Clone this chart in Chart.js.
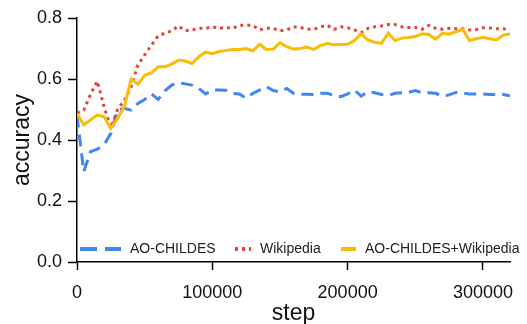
<!DOCTYPE html>
<html>
<head>
<meta charset="utf-8">
<script src="https://cdn.jsdelivr.net/npm/chart.js@4.4.1/dist/chart.umd.min.js"></script>
<style>
  html, body { margin: 0; padding: 0; background: #fff; }
  #wrap { width: 527px; height: 324px; }
</style>
</head>
<body>
<div id="wrap"><canvas id="chart" width="527" height="324"></canvas></div>
<script>
// evaluation steps (every 5000)
const steps = [
  0, 5000, 10000, 15000, 20000, 25000, 30000, 35000, 40000, 45000,
  50000, 55000, 60000, 65000, 70000, 75000, 80000, 85000, 90000, 95000,
  100000, 105000, 110000, 115000, 120000, 125000, 130000, 135000, 140000, 145000,
  150000, 155000, 160000, 165000, 170000, 175000, 180000, 185000, 190000, 195000,
  200000, 205000, 210000, 215000, 220000, 225000, 230000, 235000, 240000, 245000,
  250000, 255000, 260000, 265000, 270000, 275000, 280000, 285000, 290000, 295000,
  300000, 305000, 310000, 315000, 320000
];

const seriesNames = ['AO-CHILDES', 'Wikipedia', 'AO-CHILDES+Wikipedia'];

const childes = [
  0.480, 0.296, 0.362, 0.370, 0.384, 0.422, 0.498, 0.504, 0.498, 0.520,
  0.533, 0.551, 0.533, 0.561, 0.580, 0.588, 0.584, 0.580, 0.569, 0.551,
  0.564, 0.564, 0.563, 0.553, 0.551, 0.537, 0.553, 0.564, 0.575, 0.562,
  0.558, 0.569, 0.553, 0.550, 0.550, 0.549, 0.553, 0.553, 0.546, 0.542,
  0.551, 0.564, 0.544, 0.558, 0.555, 0.549, 0.546, 0.553, 0.555, 0.556,
  0.562, 0.555, 0.555, 0.553, 0.544, 0.548, 0.556, 0.554, 0.551, 0.551,
  0.551, 0.549, 0.549, 0.549, 0.545
];

const wikipedia = [
  0.488, 0.498, 0.550, 0.593, 0.509, 0.440, 0.500, 0.530, 0.575, 0.646,
  0.679, 0.711, 0.742, 0.750, 0.758, 0.774, 0.758, 0.761, 0.766, 0.766,
  0.771, 0.766, 0.769, 0.766, 0.776, 0.777, 0.775, 0.761, 0.766, 0.766,
  0.758, 0.761, 0.771, 0.769, 0.764, 0.763, 0.771, 0.776, 0.763, 0.771,
  0.768, 0.761, 0.752, 0.766, 0.771, 0.774, 0.779, 0.779, 0.771, 0.769,
  0.769, 0.763, 0.776, 0.766, 0.763, 0.766, 0.765, 0.765, 0.761, 0.762,
  0.768, 0.767, 0.765, 0.765, 0.761
];

const combined = [
  0.487, 0.449, 0.466, 0.482, 0.476, 0.438, 0.471, 0.509, 0.600, 0.583,
  0.612, 0.620, 0.640, 0.640, 0.649, 0.662, 0.659, 0.651, 0.673, 0.688,
  0.683, 0.690, 0.693, 0.697, 0.697, 0.700, 0.692, 0.714, 0.697, 0.698,
  0.719, 0.706, 0.698, 0.700, 0.705, 0.697, 0.710, 0.716, 0.712, 0.713,
  0.714, 0.726, 0.748, 0.728, 0.720, 0.717, 0.750, 0.726, 0.734, 0.736,
  0.739, 0.748, 0.746, 0.731, 0.750, 0.747, 0.755, 0.763, 0.726, 0.732,
  0.737, 0.732, 0.728, 0.744, 0.748
];

const xTicks = [0, 100000, 200000, 300000];
const yTicks = [0.0, 0.2, 0.4, 0.6, 0.8];

const FONT = "'Liberation Sans', Arial, sans-serif";

const toPoints = vals => vals.map((v, i) => ({ x: steps[i], y: v }));

/* ── legend drawn inside the plot, along the bottom ── */
const insideLegend = {
  id: 'insideLegend',
  afterDatasetsDraw(chart) {
    const { ctx, chartArea } = chart;
    const y = chartArea.bottom - 13;
    const keys = [
      { x0: 80, x1: 121, tx: 130, dash: [17, 8] },
      { x0: 235, x1: 251, tx: 260, dash: [3, 4] },
      { x0: 341, x1: 356, tx: 365, dash: [] },
    ];
    ctx.save();
    chart.data.datasets.forEach((ds, i) => {
      const k = keys[i];
      ctx.beginPath();
      ctx.strokeStyle = ds.borderColor;
      ctx.lineWidth = 4;
      ctx.setLineDash(k.dash);
      ctx.moveTo(k.x0, y);
      ctx.lineTo(k.x1, y);
      ctx.stroke();
      ctx.setLineDash([]);
      ctx.fillStyle = '#222';
      ctx.font = '14px ' + FONT;
      ctx.textBaseline = 'middle';
      ctx.fillText(ds.label, k.tx, y);
    });
    ctx.restore();
  }
};

new Chart(document.getElementById('chart'), {
  type: 'line',
  data: {
    datasets: [
      {
        label: seriesNames[0],
        data: toPoints(childes),
        borderColor: '#4285F4',
        borderWidth: 3,
        borderDash: [12, 7],
        pointRadius: 0,
        tension: 0,
        order: 3,
      },
      {
        label: seriesNames[1],
        data: toPoints(wikipedia),
        borderColor: '#EA4335',
        borderWidth: 3,
        borderDash: [3, 4],
        pointRadius: 0,
        tension: 0,
        order: 2,
      },
      {
        label: seriesNames[2],
        data: toPoints(combined),
        borderColor: '#FBBC04',
        borderWidth: 3,
        pointRadius: 0,
        tension: 0,
        order: 1,
      },
    ],
  },
  options: {
    responsive: false,
    animation: false,
    layout: { padding: { top: 18, right: 17, left: 0, bottom: 0 } },
    plugins: { legend: { display: false }, tooltip: { enabled: false } },
    scales: {
      x: {
        type: 'linear',
        min: 0,
        max: 320000,
        afterFit: s => { s.height = 62; },
        afterBuildTicks: s => { s.ticks = xTicks.map(v => ({ value: v })); },
        grid: { drawOnChartArea: false, tickLength: 8, tickColor: '#000', tickWidth: 1.5 },
        border: { color: '#000', width: 1.5 },
        ticks: {
          color: '#111', padding: 12, maxRotation: 0,
          font: { family: FONT, size: 18 },
          callback: v => String(v),
        },
        title: {
          display: true, text: 'step', color: '#111',
          font: { family: FONT, size: 23, lineHeight: 0.9 },
          padding: { top: 0, bottom: 0 },
        },
      },
      y: {
        min: 0,
        max: 0.8,
        afterFit: s => { s.width = 77; },
        afterBuildTicks: s => { s.ticks = yTicks.map(v => ({ value: v })); },
        grid: { drawOnChartArea: false, tickLength: 9, tickColor: '#000', tickWidth: 1.5 },
        border: { color: '#000', width: 1.5 },
        ticks: {
          color: '#111', padding: 6,
          font: { family: FONT, size: 18 },
          callback: v => v.toFixed(1),
        },
        title: {
          display: true, text: 'accuracy', color: '#111',
          font: { family: FONT, size: 23, lineHeight: 1 },
          padding: { top: 11, bottom: 0 },
        },
      },
    },
  },
  plugins: [insideLegend],
});
</script>
</body>
</html>
